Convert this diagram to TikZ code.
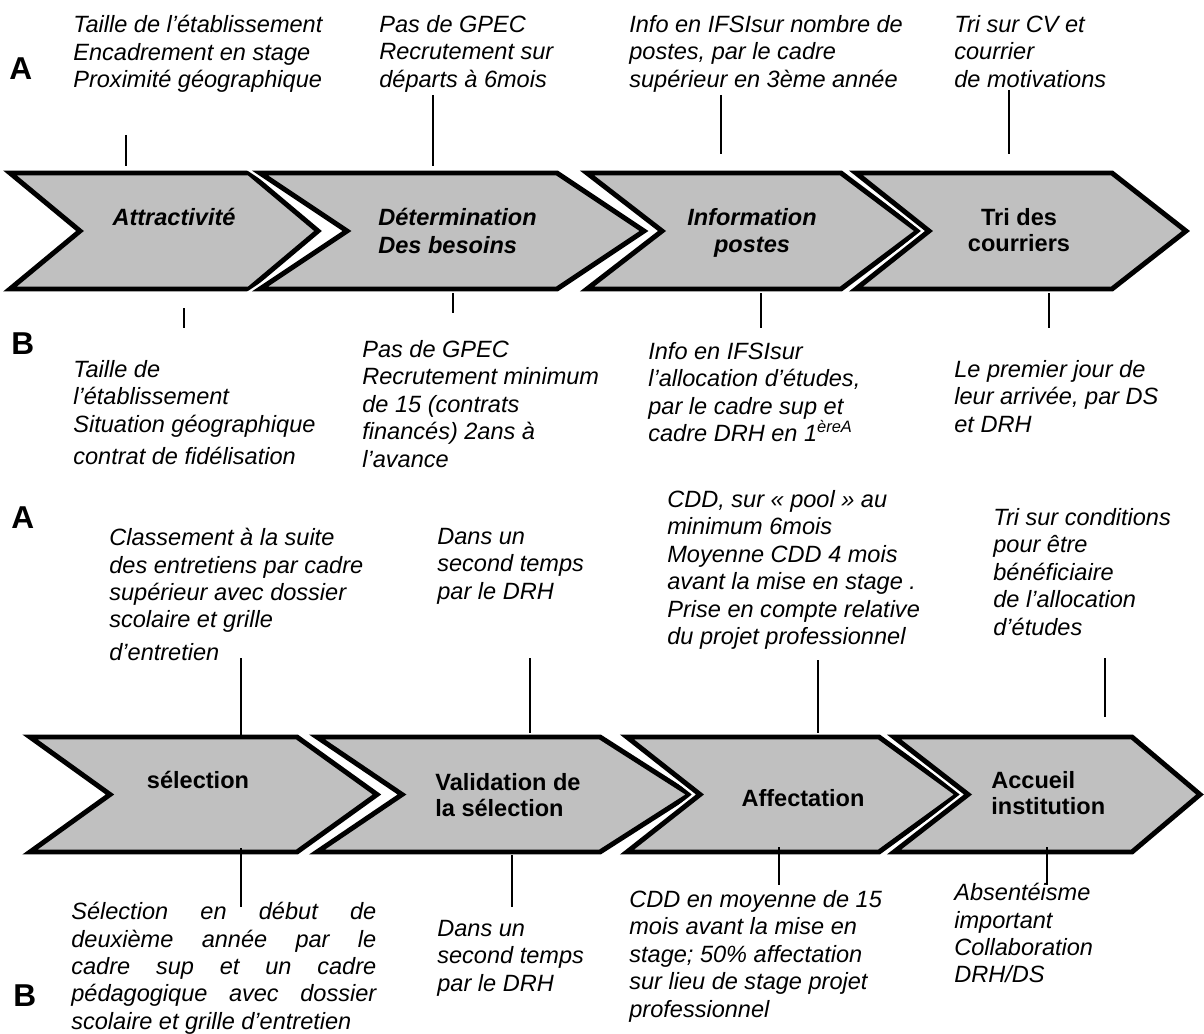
\documentclass[tikz,border=0pt]{standalone}
\usepackage{fontspec}
\setmainfont{Liberation Sans}
\definecolor{chevgray}{RGB}{192,192,192}
\tikzset{
  chevron/.style={fill=chevgray, draw=black, line width=2.8pt,
    preaction={draw=white, line width=5.6pt}},
  note/.style={anchor=north west, inner sep=0pt, align=left,
    font=\itshape\fontsize{13.4}{15.6}\selectfont},
  steplbl/.style={inner sep=0pt, font=\bfseries\fontsize{13.4}{15}\selectfont},
  stepit/.style={inner sep=0pt, font=\bfseries\itshape\fontsize{13.4}{15.6}\selectfont},
  rowlbl/.style={anchor=base west, inner sep=0pt, font=\bfseries\fontsize{18}{18}\selectfont},
  tickline/.style={line width=0.8pt}
}
% left, notch, top right, tip, top, bottom
\newcommand{\chev}[6]{\filldraw[chevron] (#1,#5) -- (#3,#5) -- (#4,{(#5+#6)/2}) -- (#3,#6) -- (#1,#6) -- (#2,{(#5+#6)/2}) -- cycle;}
\begin{document}
\begin{tikzpicture}[x=0.02cm, y=-0.02cm]
        \useasboundingbox (0,0) rectangle (1204,1034);
        \chev{10}{80}{249}{318}{173}{289}
        \chev{260}{347}{557}{644}{173}{289}
        \chev{587}{662}{841}{918}{173}{289}
        \chev{856}{929}{1112}{1186}{173}{289}
        \chev{30}{110}{297}{377}{737}{852}
        \chev{317}{402}{600}{690}{737}{852}
        \chev{627}{700}{879}{958}{737}{852}
        \chev{894}{968}{1132}{1200}{737}{852}
        \node[stepit, anchor=base] (attr) at (174,225) {Attractivité};
        \node[stepit, anchor=north west, align=left] (besoins) at (378,208) {Détermination\\Des besoins};
        \node[stepit, anchor=north, align=center] (infopost) at (752,208) {Information\\postes};
        \node[steplbl, anchor=north, align=center] (tri) at (1019,208) {Tri des\\courriers};
        \node[steplbl, anchor=base] (select) at (198,788) {sélection};
        \node[steplbl, anchor=north west, align=left] (valid) at (435,773) {Validation de\\la sélection};
        \node[steplbl, anchor=base] (affect) at (803,806) {Affectation};
        \node[steplbl, anchor=north west, align=left] (accueil) at (991,771) {Accueil\\institution};
        \node[rowlbl] (rowA1) at (9,80) {A};
        \node[rowlbl] (rowB1) at (11,354) {B};
        \node[rowlbl] (rowA2) at (11,528) {A};
        \node[rowlbl] (rowB2) at (13,1006) {B};
        \node[note] (a1attr) at (73,15) {Taille de l’établissement\\Encadrement en stage\\Proximité géographique};
        \node[note] (a1bes) at (379,15) {Pas de GPEC\\Recrutement sur\\départs à 6mois};
        \node[note] (a1info) at (629,15) {Info en IFSIsur nombre de\\postes, par  le cadre\\supérieur en 3ème année};
        \node[note] (a1tri) at (954,15) {Tri sur CV et\\courrier\\de motivations};
        \node[note] (b1attr) at (73,360) {Taille de\\l’établissement\\Situation géographique\\[3pt]contrat de fidélisation};
        \node[note] (b1bes) at (362,340) {Pas de GPEC\\Recrutement minimum\\de 15 (contrats\\financés)  2ans à\\l’avance};
        \node[note] (b1info) at (648,342) {Info en IFSIsur\\l’allocation d’études,\\par le cadre sup et\\cadre DRH en 1\textsuperscript{èreA}};
        \node[note] (b1tri) at (954,360) {Le premier jour de\\leur arrivée, par DS\\et DRH};
        \node[note] (a2sel) at (109,528) {Classement à la suite\\des entretiens par cadre\\supérieur avec dossier\\scolaire et grille\\[3pt]d’entretien};
        \node[note] (a2val) at (437,528) {Dans un\\second temps\\par  le DRH};
        \node[note] (a2aff) at (667,490) {CDD, sur «~pool~» au\\minimum 6mois\\Moyenne CDD 4 mois\\avant la mise en stage .\\Prise en compte relative\\du projet professionnel};
        \node[note] (a2acc) at (993,508) {Tri sur  conditions\\ pour être\\bénéficiaire\\de l’allocation\\d’études};
        \node[note] (b2sel) at (71,902) {\makebox[6.1cm][s]{Sélection en début de}\\\makebox[6.1cm][s]{deuxième année par le}\\\makebox[6.1cm][s]{cadre sup et un cadre}\\\makebox[6.1cm][s]{pédagogique avec dossier}\\scolaire et grille d’entretien};
        \node[note] (b2val) at (437,920) {Dans un\\second temps\\par le DRH};
        \node[note] (b2aff) at (629,890) {CDD en moyenne de 15\\mois avant la mise en\\stage; 50\% affectation\\sur lieu de stage projet\\professionnel};
        \node[note] (b2acc) at (954,883) {Absentéisme\\important\\Collaboration\\DRH/DS};
        \foreach \x/\ya/\yb [count=\i] in {126/135/166, 433/95/166, 721/95/154, 1009/90/154,
                184/308/328, 453/293/313, 761/293/328, 1049/293/328,
                241/658/735, 530/658/733, 818/660/733, 1105/658/717,
                241/848/907, 512/855/907, 779/847/885, 1047/847/885} {
                \coordinate (ta\i) at (\x,\ya);
                \coordinate (tb\i) at (\x,\yb);
                \draw[tickline] (ta\i) -- (tb\i);
        }
\end{tikzpicture}
\end{document}
